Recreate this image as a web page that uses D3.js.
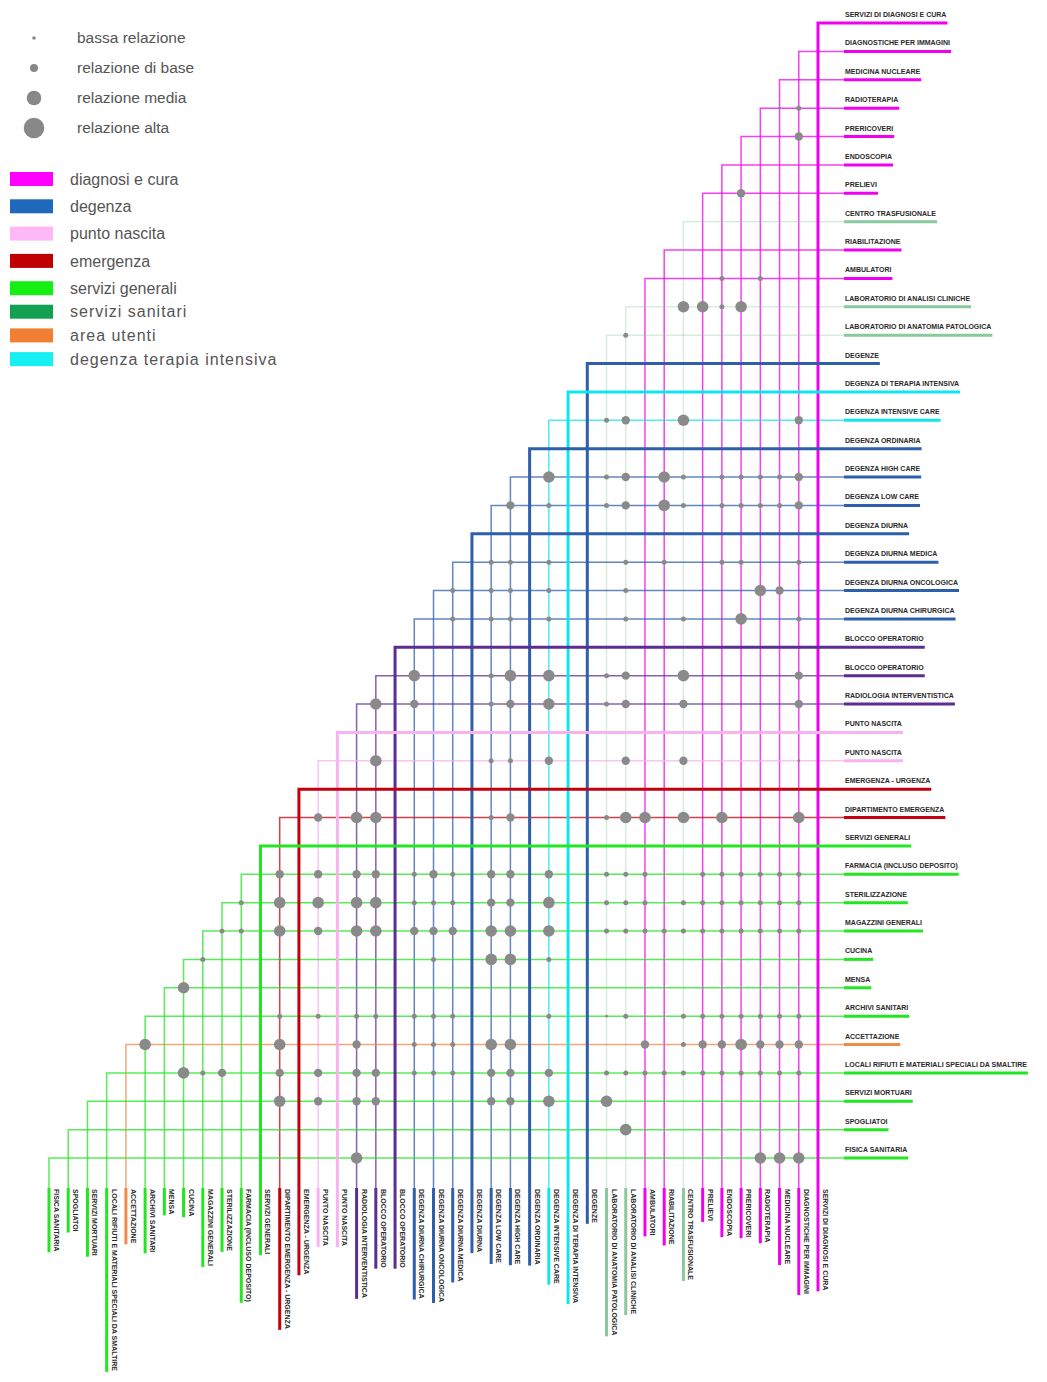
<!DOCTYPE html>
<html>
<head>
<meta charset="UTF-8">
<title>Matrice delle relazioni funzionali</title>
<script src="https://cdnjs.cloudflare.com/ajax/libs/d3/7.8.5/d3.min.js"></script>
<style>
body{margin:0;background:#fff;}
text{font-family:"Liberation Sans",Arial,sans-serif;}
.lbl{font-size:7px;font-weight:bold;fill:#2a2a2a;}
.leg{font-size:16px;fill:#555;}
</style>
</head>
<body>
<div id="chart"></div>
<script>
var width=1047, height=1382;

// functional areas, top to bottom on the right (same order right to left at the bottom)
var rowLabels=["SERVIZI DI DIAGNOSI E CURA","DIAGNOSTICHE PER IMMAGINI","MEDICINA NUCLEARE","RADIOTERAPIA","PRERICOVERI","ENDOSCOPIA","PRELIEVI","CENTRO TRASFUSIONALE","RIABILITAZIONE","AMBULATORI","LABORATORIO DI ANALISI CLINICHE","LABORATORIO DI ANATOMIA PATOLOGICA","DEGENZE","DEGENZA DI TERAPIA INTENSIVA","DEGENZA INTENSIVE CARE","DEGENZA ORDINARIA","DEGENZA HIGH CARE","DEGENZA LOW CARE","DEGENZA DIURNA","DEGENZA DIURNA MEDICA","DEGENZA DIURNA ONCOLOGICA","DEGENZA DIURNA CHIRURGICA","BLOCCO OPERATORIO","BLOCCO OPERATORIO","RADIOLOGIA INTERVENTISTICA","PUNTO NASCITA","PUNTO NASCITA","EMERGENZA - URGENZA","DIPARTIMENTO EMERGENZA","SERVIZI GENERALI","FARMACIA (INCLUSO DEPOSITO)","STERILIZZAZIONE","MAGAZZINI GENERALI","CUCINA","MENSA","ARCHIVI SANITARI","ACCETTAZIONE","LOCALI RIFIUTI E MATERIALI SPECIALI DA SMALTIRE","SERVIZI MORTUARI","SPOGLIATOI","FISICA SANITARIA"];
var colLabels=rowLabels.slice();
colLabels[28]="DIPARTIMENTO EMERGENZA - URGENZA";

var itemCat=["diagnosi e cura","diagnosi e cura","diagnosi e cura","diagnosi e cura","diagnosi e cura","diagnosi e cura","diagnosi e cura","servizi sanitari","diagnosi e cura","diagnosi e cura","servizi sanitari","servizi sanitari",
"degenza","degenza terapia intensiva","degenza terapia intensiva","degenza","degenza","degenza","degenza","degenza","degenza","degenza",
"blocco operatorio","blocco operatorio","blocco operatorio","punto nascita","punto nascita","emergenza","emergenza",
"servizi generali","servizi generali","servizi generali","servizi generali","servizi generali","servizi generali","servizi generali","area utenti","servizi generali","servizi generali","servizi generali","servizi generali"];

// group heads (drawn heavier)
var mainItems=[0,12,13,15,18,22,25,27,29];

// [row, column, level]  level: 1 bassa, 2 base, 3 media, 4 alta
var relations=[
[3,2,1],[3,1,2],[4,1,3],[6,4,3],[9,5,2],[9,3,2],
[10,7,4],[10,6,4],[10,5,2],[10,4,4],[11,10,2],
[14,11,2],[14,10,3],[14,7,4],[14,1,3],
[16,14,4],[16,11,2],[16,10,3],[16,8,4],[16,7,2],[16,5,2],[16,4,2],[16,3,2],[16,2,2],[16,1,3],
[17,16,3],[17,14,2],[17,11,2],[17,10,3],[17,8,4],[17,7,2],[17,5,2],[17,4,2],[17,3,2],[17,2,2],[17,1,3],
[19,17,2],[19,16,2],[19,14,2],[19,10,2],[19,8,2],[19,5,2],[19,4,2],[19,1,2],
[20,19,2],[20,17,2],[20,16,2],[20,14,2],[20,10,2],[20,3,4],[20,2,3],
[21,19,2],[21,17,2],[21,16,2],[21,14,2],[21,10,2],[21,7,2],[21,4,4],[21,1,2],
[23,21,4],[23,17,2],[23,16,4],[23,14,4],[23,11,2],[23,10,3],[23,7,4],[23,1,3],
[24,23,4],[24,21,3],[24,17,2],[24,16,3],[24,14,4],[24,11,2],[24,10,3],[24,7,3],[24,1,3],
[26,23,4],[26,17,2],[26,16,2],[26,14,3],[26,10,3],[26,7,3],[26,1,1],
[28,26,3],[28,24,4],[28,23,4],[28,17,2],[28,16,3],[28,11,2],[28,10,4],[28,9,4],[28,7,4],[28,5,4],[28,1,4],
[30,28,3],[30,26,3],[30,24,3],[30,23,3],[30,21,2],[30,20,3],[30,19,2],[30,17,3],[30,16,3],[30,14,3],[30,11,2],[30,10,2],[30,9,2],[30,6,2],[30,5,2],[30,4,2],[30,3,2],[30,2,2],[30,1,2],
[31,30,2],[31,28,4],[31,26,4],[31,24,4],[31,23,4],[31,21,2],[31,20,2],[31,19,2],[31,17,3],[31,16,3],[31,14,4],[31,11,2],[31,10,2],[31,9,2],[31,7,2],[31,6,2],[31,5,2],[31,4,2],[31,3,2],[31,2,2],[31,1,2],
[32,31,2],[32,30,2],[32,28,4],[32,26,3],[32,24,4],[32,23,4],[32,21,3],[32,20,3],[32,19,3],[32,17,4],[32,16,4],[32,14,4],[32,11,2],[32,10,2],[32,9,2],[32,8,2],[32,7,2],[32,6,2],[32,5,2],[32,4,2],[32,3,2],[32,2,2],[32,1,2],
[33,32,2],[33,28,1],[33,20,2],[33,17,4],[33,16,4],[33,14,2],
[34,33,4],
[35,28,2],[35,26,2],[35,24,2],[35,23,2],[35,21,2],[35,20,2],[35,19,2],[35,14,2],[35,11,1],[35,10,2],[35,7,2],[35,6,2],[35,5,2],[35,4,2],[35,3,2],[35,2,2],[35,1,2],
[36,35,4],[36,28,4],[36,24,3],[36,21,2],[36,20,2],[36,19,2],[36,17,4],[36,16,4],[36,9,3],[36,7,2],[36,6,3],[36,5,3],[36,4,4],[36,3,3],[36,2,3],[36,1,3],
[37,33,4],[37,32,2],[37,31,3],[37,28,3],[37,26,3],[37,24,3],[37,23,3],[37,21,2],[37,20,2],[37,19,2],[37,17,3],[37,16,3],[37,14,3],[37,11,2],[37,10,2],[37,9,2],[37,8,2],[37,7,2],[37,6,2],[37,5,2],[37,4,2],[37,3,2],[37,2,2],[37,1,2],
[38,28,4],[38,26,3],[38,24,3],[38,23,3],[38,17,3],[38,16,3],[38,14,4],[38,11,4],
[39,10,4],
[40,24,4],[40,3,4],[40,2,4],[40,1,4]
];

var sizeLabels=["bassa relazione","relazione di base","relazione media","relazione alta"];
var legendCats=["diagnosi e cura","degenza","punto nascita","emergenza","servizi generali","servizi sanitari","area utenti","degenza terapia intensiva"];
var legendColors=["#ff00ff","#1f69bb","#ffb8f6","#c00000","#14f014","#14a052","#f07f33","#16f0f2"];

// line colours per area
var catColor={"diagnosi e cura":"#f000f0","degenza":"#2d5fab","punto nascita":"#f7b3ef","emergenza":"#c4000e",
"servizi generali":"#22e622","servizi sanitari":"#8ac99e","area utenti":"#ee8a4a","degenza terapia intensiva":"#12e4ee","blocco operatorio":"#5c2d93"};

var n=rowLabels.length;
var y=d3.scaleLinear().domain([0,n-1]).range([23,1158]);
var x=d3.scaleLinear().domain([0,n-1]).range([818,49]);
var rad=d3.scaleOrdinal().domain([1,2,3,4]).range([1.4,2.5,4.2,5.8]);
var legRad=d3.scaleOrdinal().domain([1,2,3,4]).range([1.8,4,7.3,10.3]);
var labelX=844, labelY=1188;

var svg=d3.select("#chart").append("svg").attr("width",width).attr("height",height);

function isMain(i){return mainItems.indexOf(i)>=0;}
function gridOpacity(i){
  if(isMain(i)) return 1;
  return itemCat[i]=="servizi sanitari"?0.35:0.75;
}

var idx=d3.range(n);
// thin ones first, heads on top
idx.sort(function(a,b){return isMain(a)-isMain(b);});

svg.append("g").selectAll("path").data(idx).enter().append("path")
  .attr("d",function(i){return "M"+x(i)+","+labelY+"V"+y(i)+"H"+labelX;})
  .attr("fill","none")
  .attr("stroke",function(i){return catColor[itemCat[i]];})
  .attr("stroke-opacity",gridOpacity)
  .attr("stroke-width",function(i){return isMain(i)?3:1.5;});

// right labels with their coloured underline
var rl=svg.append("g").selectAll("g").data(d3.range(n)).enter().append("g");
rl.append("text").attr("class","lbl")
  .attr("x",labelX+1).attr("y",function(i){return y(i)-6;})
  .text(function(i){return rowLabels[i];});
rl.append("line")
  .attr("x1",labelX).attr("y1",function(i){return y(i);})
  .attr("y2",function(i){return y(i);})
  .attr("x2",function(i){return labelX+2+this.parentNode.querySelector("text").getComputedTextLength();})
  .attr("stroke",function(i){return catColor[itemCat[i]];})
  .attr("stroke-width",3);

// bottom labels, rotated
var bl=svg.append("g").selectAll("g").data(d3.range(n)).enter().append("g");
bl.append("text").attr("class","lbl")
  .attr("transform",function(i){return "translate("+(x(i)+5)+","+(labelY+1)+") rotate(90)";})
  .text(function(i){return colLabels[i];});
bl.append("line")
  .attr("x1",function(i){return x(i);}).attr("x2",function(i){return x(i);})
  .attr("y1",labelY)
  .attr("y2",function(i){return labelY+2+this.parentNode.querySelector("text").getComputedTextLength();})
  .attr("stroke",function(i){return catColor[itemCat[i]];})
  .attr("stroke-width",3);

// relation dots
svg.append("g").selectAll("circle").data(relations).enter().append("circle")
  .attr("cx",function(d){return x(d[1]);})
  .attr("cy",function(d){return y(d[0]);})
  .attr("r",function(d){return rad(d[2]);})
  .attr("fill","#8a8a8a");

// legend: dot sizes
var ls=svg.append("g").selectAll("g").data(sizeLabels).enter().append("g")
  .attr("transform",function(d,i){return "translate(34,"+(38+i*30)+")";});
ls.append("circle").attr("r",function(d,i){return legRad(i+1);}).attr("fill","#888");
ls.append("text").attr("class","leg").attr("x",43).attr("dy","0.35em").style("font-size","15.5px").text(function(d){return d;});

// legend: areas
var lc=svg.append("g").selectAll("g").data(legendCats).enter().append("g")
  .attr("transform",function(d,i){return "translate(10,"+(i<5?179+i*27.3:288+(i-4)*23.7)+")";});
lc.append("rect").attr("y",-7).attr("width",43).attr("height",14)
  .attr("fill",function(d,i){return legendColors[i];});
lc.append("text").attr("class","leg").attr("x",60).attr("dy","0.35em")
  .style("letter-spacing",function(d,i){return i>=5?"1px":"0px";})
  .text(function(d){return d;});
</script>
</body>
</html>
